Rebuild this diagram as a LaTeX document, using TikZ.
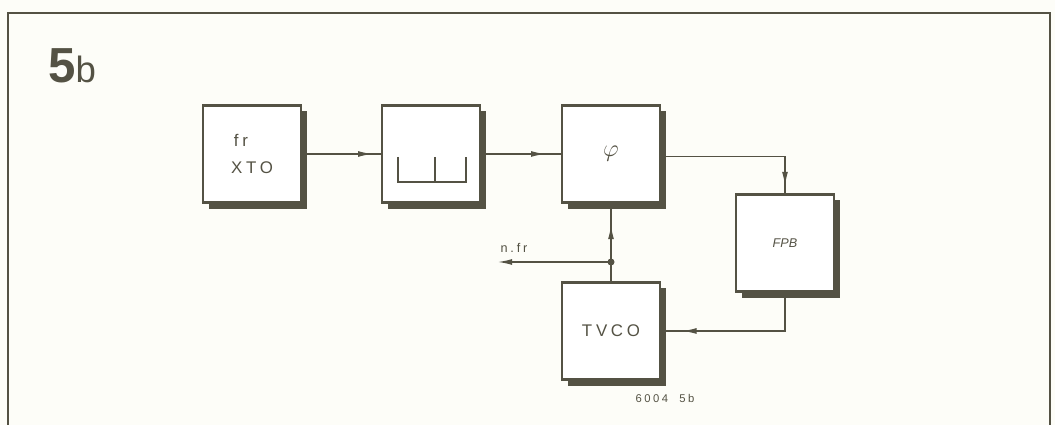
\documentclass[tikz,border=0pt]{standalone}
\usepackage{fontspec}
\setmainfont{Liberation Sans}
\newfontfamily\wide[LetterSpace=22]{Liberation Sans}
\usetikzlibrary{arrows.meta,shadows,decorations.markings}
\definecolor{k}{RGB}{84,82,68}
\definecolor{p}{RGB}{253,253,248}
\begin{document}
\begin{tikzpicture}[x=.025cm,y=.025cm,>={Latex[length=10pt,width=4.2pt]},every node/.style={text=k},
 blk/.style={draw=k,fill=white,line width=2pt,minimum width=2.45cm,minimum height=2.43cm,
  drop shadow={opacity=1,fill=k,shadow xshift=.15cm,shadow yshift=-.15cm}},
 ln/.style={k,line width=.9pt},
 tip/.style={postaction={decorate},decoration={markings,mark=at position #1 with {\arrow{Latex[length=10pt,width=4.2pt]}}}}]
\fill[p] (0,0) rectangle (1055,425);\useasboundingbox (0,0) rectangle (1055,425);
\draw[k,line width=1pt] (8,0)--(8,412)--(1050,412)--(1050,0);
\node[anchor=base west,inner sep=0pt] (fig) at (48,342) {\fontsize{35}{35}\selectfont\bfseries 5\mdseries\fontsize{26}{26}\selectfont b};
% blocks
\node[blk,align=left,font=\wide\fontsize{12}{19}\selectfont] (xto) at (252,271) {\,fr\\XTO};
\node[blk] (flt) at (431,271) {};
\node[blk,font=\fontsize{17}{17}\selectfont] (phi) at (611,271) {$\varphi$};
\node[blk,font=\fontsize{9}{9}\selectfont\itshape] (fpb) at (785,182) {FPB};
\node[blk,font=\wide\fontsize{12}{12}\selectfont] (vco) at (611,94) {TVCO};
\draw[ln,line width=1pt] (398,268)--(398,243)--(466,243)--(466,268);\draw[ln,line width=1pt] (435,268)--(435,243);
% links
\coordinate (jn) at (611,163);\coordinate (out) at (498,163);
\draw[ln,tip=-6pt] (xto) -- (flt);
\draw[ln,tip=-11pt] (flt) -- (phi);
\draw[ln,tip=-5pt] ([yshift=-2pt]phi.east) -| (fpb);
\draw[ln,tip=-15pt] (fpb) |- (vco);
\draw[ln,tip=-15pt] (vco) -- (phi);
\fill[k] (jn) circle[radius=3.5];
\draw[ln,->] (jn) -- (out);
\node[font=\wide\fontsize{9}{9}\selectfont] (nfr) at (514,177) {n.fr};
\node[font=\wide\fontsize{8}{8}\selectfont] (ref) at (665,27) {6004\ \ 5b};
\end{tikzpicture}
\end{document}
